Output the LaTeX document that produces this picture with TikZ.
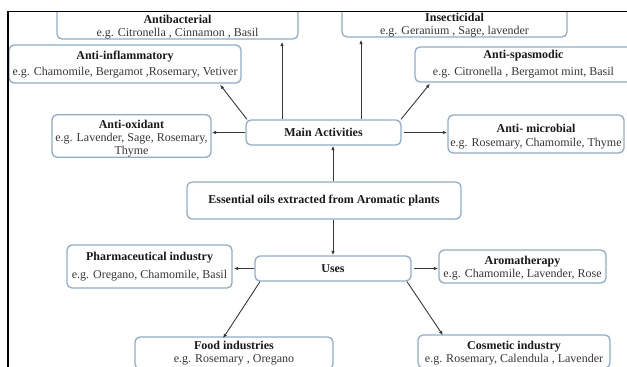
\documentclass[tikz,border=0pt]{standalone}
\usepackage{fontspec}
\setmainfont{Liberation Serif}
\usetikzlibrary{arrows.meta}
\definecolor{boxc}{RGB}{143,172,205}
\definecolor{arrc}{RGB}{55,55,55}
\definecolor{txtc}{RGB}{25,25,25}
\definecolor{subc}{RGB}{55,55,55}
\tikzset{
  box/.style={draw=boxc, line width=1.3pt, rounded corners=5pt, fill=white,
    inner sep=0pt, align=center, text=subc,
    font=\fontsize{12}{13}\selectfont},
  arr/.style={draw=arrc, line width=0.9pt, -{Latex[length=4.5pt,width=3.5pt]}}
}
\newcommand{\ttlx}[1]{\textcolor{txtc}{\textbf{#1}}}
\newcommand{\upstrut}[1]{\rule{0pt}{#1pt}}
\begin{document}
\begin{tikzpicture}[x=1pt,y=-1pt]
\useasboundingbox (0,0) rectangle (627,367);
\begin{scope}
\clip (8,11.5) rectangle (627,367);
% activities
\node[box, minimum width=241pt, minimum height=31pt] (antibact) at (177.5,23.5)
  {\upstrut{15}\ttlx{Antibacterial}\\e.g. Citronella , Cinnamon , Basil};
\node[box, minimum width=225pt, minimum height=31pt] (insect) at (454.5,21.5)
  {\upstrut{15}\ttlx{Insecticidal}\\e.g. Geranium , Sage, lavender};
\node[box, minimum width=232pt, minimum height=38pt] (antiinfl) at (125,64)
  {\upstrut{10}\ttlx{Anti-inflammatory}\\[2.5pt]e.g. Chamomile, Bergamot ,Rosemary, Vetiver};
\node[box, minimum width=217pt, minimum height=35pt] (antispas) at (523.5,64.5)
  {\ttlx{Anti-spasmodic}\\[4pt]e.g. Citronella , Bergamot mint, Basil};
\node[box, minimum width=159pt, minimum height=42pt] (antiox) at (131.5,136)
  {\upstrut{14}\ttlx{Anti-oxidant}\\e.g. Lavender, Sage, Rosemary,\\Thyme};
\node[box, minimum width=176pt, minimum height=38pt] (antimicro) at (536,134)
  {\upstrut{14}\ttlx{Anti- microbial}\\[1pt]e.g. Rosemary, Chamomile, Thyme};
\node[box, minimum width=155pt, minimum height=25pt] (main) at (323.5,132.5)
  {\ttlx{Main Activities}};
\node[box, minimum width=274pt, minimum height=37pt] (ess) at (324,200.5)
  {\ttlx{Essential oils extracted from Aromatic plants}};
% uses
\node[box, minimum width=156pt, minimum height=25pt] (uses) at (333,268.5)
  {\ttlx{Uses}};
\node[box, minimum width=165pt, minimum height=43pt] (pharma) at (149.5,266.5)
  {\ttlx{Pharmaceutical industry}\\[5pt]e.g. Oregano, Chamomile, Basil};
\node[box, minimum width=167pt, minimum height=33pt] (aroma) at (522.5,266.5)
  {\upstrut{11}\ttlx{Aromatherapy}\\e.g. Chamomile, Lavender, Rose};
\node[box, minimum width=198pt, minimum height=32pt] (food) at (234,353)
  {\ttlx{Food industries}\\e.g. Rosemary , Oregano};
\node[box, minimum width=192pt, minimum height=33pt] (cosm) at (514,351.5)
  {\upstrut{11}\ttlx{Cosmetic industry}\\e.g. Rosemary, Calendula , Lavender};
% helper coordinates
\coordinate (xab) at (282,0);
\coordinate (xin) at (361,0);
\coordinate (xai) at (220,0);
\coordinate (xas) at (430,0);
\coordinate (xes) at (333,0);
\coordinate (xm1) at (247,0);
\coordinate (xm2) at (401,0);
\coordinate (xu1) at (260,0);
\coordinate (xf) at (223,0);
\coordinate (xu2) at (407,0);
\coordinate (xc) at (443,0);
% arrows
\draw[arr] (main.north -| xab) -- ([yshift=-2pt]antibact.south -| xab);
\draw[arr] (main.north -| xin) -- ([yshift=-2pt]insect.south -| xin);
\draw[arr] (main.north -| xm1) -- ([yshift=-1pt]antiinfl.south -| xai);
\draw[arr] (main.north -| xm2) -- ([yshift=-1pt]antispas.south -| xas);
\draw[arr] (main.west) -- (main.west -| antiox.east);
\draw[arr, shorten <=2pt] (main.east) -- (main.east -| antimicro.west);
\draw[arr] (ess.north -| xes) -- (main.south -| xes);
\draw[arr] (ess.south -| uses.north) -- (uses.north);
\draw[arr] (uses.west) -- ([xshift=1pt]uses.west -| pharma.east);
\draw[arr, shorten <=2pt] (uses.east) -- (uses.east -| aroma.west);
\draw[arr] (uses.south -| xu1) -- ([yshift=-2pt]food.north -| xf);
\draw[arr] (uses.south -| xu2) -- ([yshift=-1pt]cosm.north -| xc);
\end{scope}
\draw[line width=1.2pt, black] (8,367) -- (8,11.5) -- (627,11.5);
\end{tikzpicture}
\end{document}
